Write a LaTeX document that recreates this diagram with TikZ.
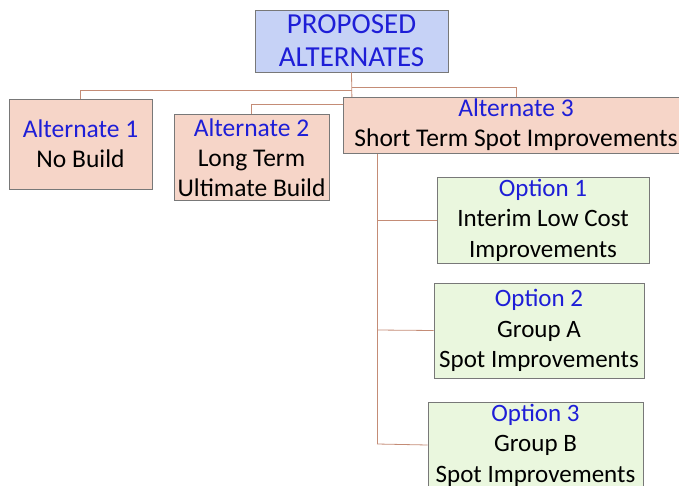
\documentclass[tikz,border=0pt]{standalone}
\usepackage{fontspec}
\setmainfont{Carlito}
\definecolor{rootfill}{RGB}{198,210,246}
\definecolor{altfill}{RGB}{246,213,200}
\definecolor{optfill}{RGB}{234,247,222}
\definecolor{boxline}{RGB}{120,120,120}
\definecolor{titleblue}{RGB}{30,30,215}
\definecolor{link}{RGB}{196,140,118}
\tikzset{
  box/.style={draw=boxline, line width=0.9pt, inner sep=0pt, align=center, text=black},
  rootbox/.style={box, fill=rootfill, text=titleblue, font=\fontsize{29}{33}\selectfont},
  altbox/.style={box, fill=altfill, font=\fontsize{25.5}{30}\selectfont},
  optbox/.style={box, fill=optfill, font=\fontsize{25}{30.5}\selectfont},
  conn/.style={draw=link, line width=0.8pt},
}
\newcommand{\ttl}[1]{\textcolor{titleblue}{#1}}
\begin{document}
\begin{tikzpicture}[x=1pt,y=-1pt]
\useasboundingbox (0,0) rectangle (679,486);
\clip (0,0) rectangle (679,486);
\node[rootbox, minimum width=193, minimum height=62] (root) at (351.5,41) {PROPOSED\\ALTERNATES};
\coordinate (j1) at (352,90);
\coordinate (j2) at (352,87);
\coordinate (j3) at (352,104);
\coordinate (a1t) at (80,90);
\coordinate (a2t) at (251,104);
\coordinate (a3t) at (516,87);
\coordinate (v0) at (377,153);
\coordinate (b1) at (377,220);
\coordinate (b2) at (377,330);
\coordinate (b3) at (377,444);
\draw[conn] (root.south) -- (j3);
\draw[conn] (j1) -- (a1t) -- (80,99);
\draw[conn] (j2) -- (a3t) -- (516,97);
\draw[conn] (j3) -- (a2t) -- (251,114);
\draw[conn] (v0) -- (b3);
\node[altbox, minimum width=143, minimum height=90] (alt1) at (80.5,144) {\ttl{Alternate 1}\\No Build};
\node[altbox, minimum width=155, minimum height=86] (alt2) at (251.5,157.5) {\ttl{Alternate 2}\\Long Term\\Ultimate Build};
\node[altbox, minimum width=346, minimum height=56] (alt3) at (516,125) {\ttl{Alternate 3}\\Short Term Spot Improvements};
\node[optbox, minimum width=212, minimum height=86] (opt1) at (543,220) {\ttl{Option 1}\\Interim Low Cost\\Improvements};
\node[optbox, minimum width=210, minimum height=95] (opt2) at (539,330.5) {\ttl{Option 2}\\Group A\\Spot Improvements};
\node[optbox, minimum width=215, minimum height=86] (opt3) at (535.5,445) {\ttl{Option 3}\\Group B\\Spot Improvements};
\draw[conn] (b1) -- (opt1.west);
\draw[conn] (b2) -- (opt2.west);
\draw[conn] (b3) -- (opt3.west);
\end{tikzpicture}
\end{document}
